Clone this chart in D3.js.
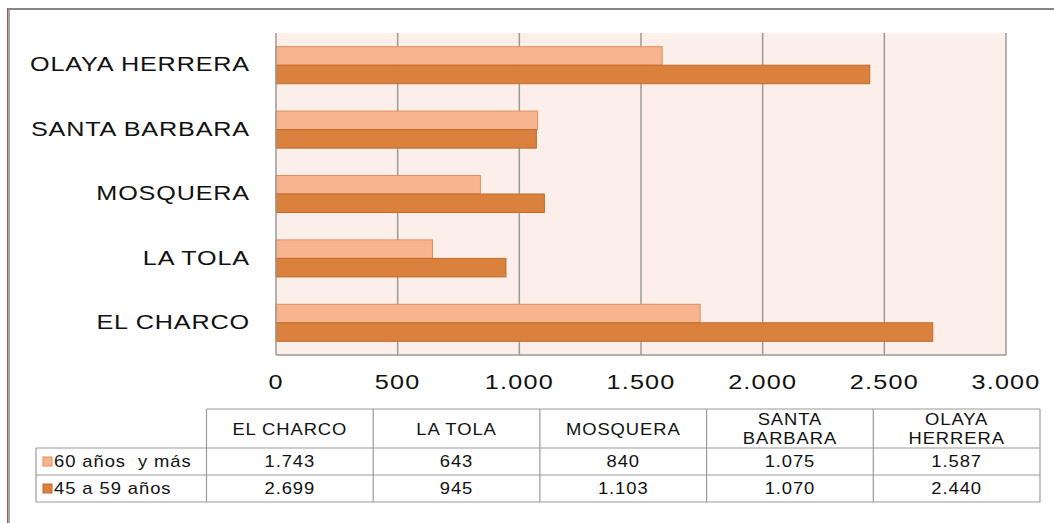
<!DOCTYPE html>
<html><head><meta charset="utf-8">
<script src="https://cdn.jsdelivr.net/npm/d3@7"></script>
<style>
html,body{margin:0;padding:0;background:#fff;}
svg{display:block;font-family:"Liberation Sans",Arial,sans-serif;}
</style></head>
<body><svg id="c" width="1054" height="523"></svg>
<script>
const categories = ["EL CHARCO","LA TOLA","MOSQUERA","SANTA BARBARA","OLAYA HERRERA"];
const headerLabels = [["EL CHARCO"],["LA TOLA"],["MOSQUERA"],["SANTA","BARBARA"],["OLAYA","HERRERA"]];
const seriesNames = ["60 años  y más","45 a 59 años"];
const series60 = [1743,643,840,1075,1587];
const series45 = [2699,945,1103,1070,2440];
const xTicks = [0,500,1000,1500,2000,2500,3000];

(function(){
const fills = ["#F8B48F","#D9813D"];
const strokes = ["#E08F5C","#C26A2A"];
const seriesVals = [series60, series45];

const svg = d3.select("#c");
const loc = d3.formatLocale({decimal:",",thousands:".",grouping:[3],currency:["",""]});
const fmt = loc.format(",d");

function stext(g, x, y, str, size, anchor, sx, ls){
  return g.append("text")
    .attr("transform",`translate(${x},${y}) scale(${sx},1)`)
    .attr("text-anchor",anchor)
    .attr("dominant-baseline","central")
    .attr("font-size",size)
    .attr("letter-spacing",ls||0)
    .attr("fill","#111")
    .text(str);
}

// outer border
svg.append("line").attr("x1",7).attr("x2",1054).attr("y1",9).attr("y2",9).attr("stroke","#858585").attr("stroke-width",2);
svg.append("line").attr("x1",7.5).attr("x2",7.5).attr("y1",8).attr("y2",523).attr("stroke","#A05A5A").attr("stroke-width",1);
svg.append("line").attr("x1",9).attr("x2",9).attr("y1",8).attr("y2",523).attr("stroke","#8A8A8A").attr("stroke-width",1.5);

const pL = 276, pR = 1006, pT = 33, pB = 355;
const x = d3.scaleLinear().domain([0,3000]).range([pL,pR]);
const y = d3.scaleBand().domain(categories.slice().reverse()).range([pT,pB]).paddingInner(0.425).paddingOuter(0.2125);
const ySub = d3.scaleBand().domain([0,1]).range([0,y.bandwidth()]);

svg.append("rect").attr("x",pL).attr("y",pT).attr("width",pR-pL).attr("height",pB-pT).attr("fill","#FCEEE8");

svg.append("g").selectAll("line").data(xTicks.filter(d=>d>0)).join("line")
  .attr("x1",d=>x(d)).attr("x2",d=>x(d)).attr("y1",pT).attr("y2",pB)
  .attr("stroke","#9A9A9A").attr("stroke-width",1.5);

categories.forEach((c,i)=>{
  seriesVals.forEach((vals,s)=>{
    svg.append("rect")
      .attr("x",x(0)).attr("y",y(c)+ySub(s))
      .attr("width",x(vals[i])-x(0)).attr("height",ySub.bandwidth())
      .attr("fill",fills[s]).attr("stroke",strokes[s]).attr("stroke-width",1);
  });
});

svg.append("line").attr("x1",pL).attr("x2",pL).attr("y1",pT).attr("y2",pB).attr("stroke","#9A9A9A").attr("stroke-width",1.5);
svg.append("line").attr("x1",pL).attr("x2",pR).attr("y1",pB).attr("y2",pB).attr("stroke","#9A9A9A").attr("stroke-width",1.5);

const gl = svg.append("g");
categories.forEach(c=>{
  stext(gl, 250, y(c)+y.bandwidth()/2-1, c, 21, "end", 1.2, 0.7);
});

const gx = svg.append("g");
xTicks.forEach(t=>{
  stext(gx, x(t), 382, fmt(t), 21, "middle", 1.2, 1);
});

const colX = d3.scaleBand().domain(categories).range([206.5,1040]);
const rowsY = [409,448,475,502];
const tg = svg.append("g");
const lc = "#9A9A9A";
tg.append("line").attr("x1",206.5).attr("x2",1040).attr("y1",rowsY[0]).attr("y2",rowsY[0]).attr("stroke",lc).attr("stroke-width",1.2);
[1,2,3].forEach(k=>{
  tg.append("line").attr("x1",36).attr("x2",1040).attr("y1",rowsY[k]).attr("y2",rowsY[k]).attr("stroke",lc).attr("stroke-width",1.2);
});
tg.append("line").attr("x1",36).attr("x2",36).attr("y1",rowsY[1]).attr("y2",rowsY[3]).attr("stroke",lc).attr("stroke-width",1.2);
categories.concat([null]).forEach((c)=>{
  const xx = c===null ? 1040 : colX(c);
  tg.append("line").attr("x1",xx).attr("x2",xx).attr("y1",rowsY[0]).attr("y2",rowsY[3]).attr("stroke",lc).attr("stroke-width",1.2);
});
categories.forEach((c,i)=>{
  const cx = colX(c)+colX.bandwidth()/2;
  const lines = headerLabels[i];
  if(lines.length===1){
    stext(tg, cx, 429, lines[0], 16, "middle", 1.15, 0.8);
  } else {
    stext(tg, cx, 419, lines[0], 16, "middle", 1.15, 0.8);
    stext(tg, cx, 438, lines[1], 16, "middle", 1.15, 0.8);
  }
});
seriesVals.forEach((vals,s)=>{
  const cy = (rowsY[s+1]+rowsY[s+2])/2;
  tg.append("rect").attr("x",43).attr("y",cy-4.5).attr("width",9).attr("height",9)
    .attr("fill",fills[s]).attr("stroke",strokes[s]).attr("stroke-width",1);
  stext(tg, 54, cy, seriesNames[s], 16, "start", 1.15, 0.8).style("white-space","pre");
  categories.forEach((c,i)=>{
    stext(tg, colX(c)+colX.bandwidth()/2, cy, fmt(vals[i]), 16, "middle", 1.15, 0.8);
  });
});
})();
</script></body></html>
